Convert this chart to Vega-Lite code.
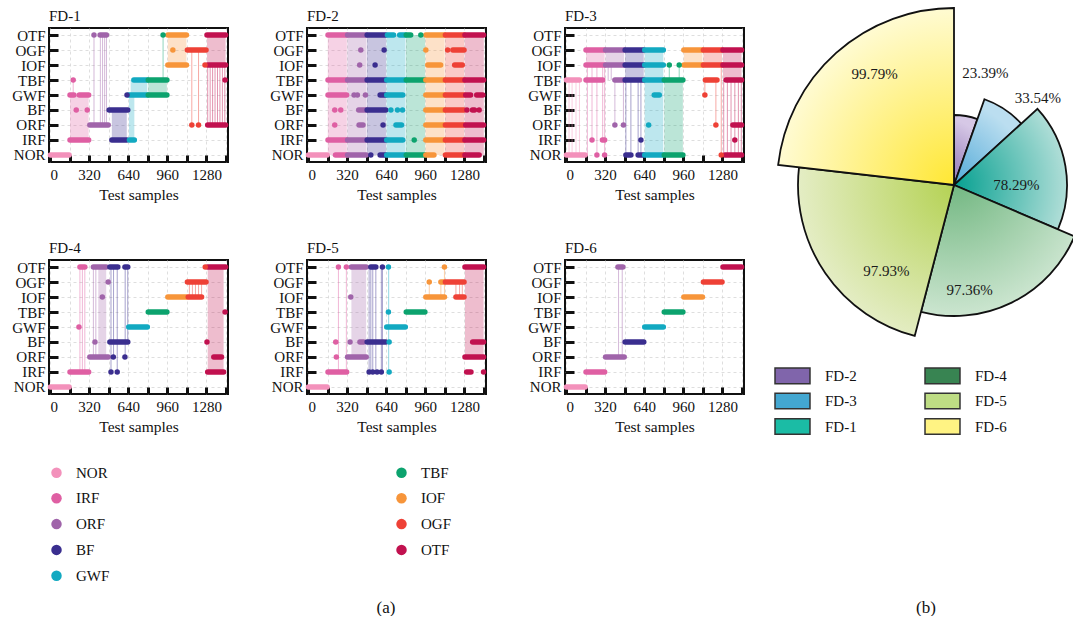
{
  "$schema": "https://vega.github.io/schema/vega-lite/v6.json",
  "padding": {"left": 10, "top": 4, "right": 0, "bottom": 0},
  "config": {
    "font": "Liberation Serif",
    "view": {"stroke": "#111", "strokeWidth": 2},
    "axis": {"zindex": 0, "labelFont": "Liberation Serif", "labelFontSize": 15, "labelColor": "#111", "titleFont": "Liberation Serif", "titleFontSize": 15.5, "titleFontWeight": "normal", "titleColor": "#111", "tickColor": "#111", "tickWidth": 3, "domain": false, "gridDash": [3, 3], "gridColor": "#d6d6d6", "gridWidth": 0.8},
    "legend": {"labelFont": "Liberation Serif", "labelFontSize": 15, "labelColor": "#111"},
    "title": {"font": "Liberation Serif", "fontSize": 17, "fontWeight": "normal", "color": "#111"},
    "header": {"labelFont": "Liberation Serif", "labelFontSize": 15, "labelColor": "#111"}
  },
  "datasets": {
    "fd": [
      {"p":"FD-1","k":"s","c":"NOR","x":4,"x2":156,"y":"NOR"},
      {"p":"FD-1","k":"b","c":"IRF","x":164,"x2":316,"y":"IRF","y2":"GWF"},
      {"p":"FD-1","k":"s","c":"IRF","x":164,"x2":316,"y":"IRF"},
      {"p":"FD-1","k":"s","c":"IRF","x":164,"x2":196,"y":"GWF"},
      {"p":"FD-1","k":"s","c":"IRF","x":240,"x2":316,"y":"GWF"},
      {"p":"FD-1","k":"d","c":"IRF","x":190,"y":"TBF"},
      {"p":"FD-1","k":"d","c":"IRF","x":215,"y":"BF"},
      {"p":"FD-1","k":"d","c":"IRF","x":305,"y":"BF"},
      {"p":"FD-1","k":"t","c":"IRF","x":190,"y":"GWF","y2":"TBF"},
      {"p":"FD-1","k":"s","c":"ORF","x":326,"x2":476,"y":"ORF"},
      {"p":"FD-1","k":"d","c":"ORF","x":360,"y":"OTF"},
      {"p":"FD-1","k":"s","c":"ORF","x":410,"x2":462,"y":"OTF"},
      {"p":"FD-1","k":"t","c":"ORF","x":360,"y":"ORF","y2":"OTF"},
      {"p":"FD-1","k":"t","c":"ORF","x":412,"y":"ORF","y2":"OTF"},
      {"p":"FD-1","k":"t","c":"ORF","x":430,"y":"ORF","y2":"OTF"},
      {"p":"FD-1","k":"t","c":"ORF","x":447,"y":"ORF","y2":"OTF"},
      {"p":"FD-1","k":"t","c":"ORF","x":462,"y":"ORF","y2":"OTF"},
      {"p":"FD-1","k":"b","c":"BF","x":506,"x2":628,"y":"IRF","y2":"BF"},
      {"p":"FD-1","k":"s","c":"BF","x":484,"x2":636,"y":"BF"},
      {"p":"FD-1","k":"s","c":"BF","x":506,"x2":628,"y":"IRF"},
      {"p":"FD-1","k":"d","c":"BF","x":630,"y":"GWF"},
      {"p":"FD-1","k":"b","c":"GWF","x":660,"x2":796,"y":"GWF","y2":"TBF"},
      {"p":"FD-1","k":"b","c":"GWF","x":646,"x2":690,"y":"IRF","y2":"GWF"},
      {"p":"FD-1","k":"s","c":"GWF","x":644,"x2":796,"y":"GWF"},
      {"p":"FD-1","k":"s","c":"GWF","x":686,"x2":796,"y":"TBF"},
      {"p":"FD-1","k":"s","c":"GWF","x":650,"x2":690,"y":"IRF"},
      {"p":"FD-1","k":"b","c":"TBF","x":804,"x2":956,"y":"GWF","y2":"TBF"},
      {"p":"FD-1","k":"s","c":"TBF","x":804,"x2":956,"y":"TBF"},
      {"p":"FD-1","k":"s","c":"TBF","x":804,"x2":956,"y":"GWF"},
      {"p":"FD-1","k":"d","c":"TBF","x":925,"y":"OTF"},
      {"p":"FD-1","k":"t","c":"TBF","x":925,"y":"TBF","y2":"OTF"},
      {"p":"FD-1","k":"b","c":"IOF","x":964,"x2":1116,"y":"IOF","y2":"OTF"},
      {"p":"FD-1","k":"s","c":"IOF","x":964,"x2":1116,"y":"IOF"},
      {"p":"FD-1","k":"s","c":"IOF","x":964,"x2":1116,"y":"OTF"},
      {"p":"FD-1","k":"d","c":"IOF","x":1005,"y":"OGF"},
      {"p":"FD-1","k":"s","c":"OGF","x":1124,"x2":1276,"y":"OGF"},
      {"p":"FD-1","k":"d","c":"OGF","x":1160,"y":"ORF"},
      {"p":"FD-1","k":"d","c":"OGF","x":1215,"y":"ORF"},
      {"p":"FD-1","k":"t","c":"OGF","x":1160,"y":"ORF","y2":"OGF"},
      {"p":"FD-1","k":"t","c":"OGF","x":1215,"y":"ORF","y2":"OGF"},
      {"p":"FD-1","k":"d","c":"OGF","x":1268,"y":"IOF"},
      {"p":"FD-1","k":"b","c":"OTF","x":1284,"x2":1436,"y":"IOF","y2":"OTF"},
      {"p":"FD-1","k":"s","c":"OTF","x":1284,"x2":1436,"y":"OTF"},
      {"p":"FD-1","k":"s","c":"OTF","x":1290,"x2":1436,"y":"IOF"},
      {"p":"FD-1","k":"s","c":"OTF","x":1290,"x2":1436,"y":"ORF"},
      {"p":"FD-1","k":"d","c":"OTF","x":1432,"y":"TBF"},
      {"p":"FD-1","k":"t","c":"OTF","x":1290,"y":"IOF","y2":"ORF"},
      {"p":"FD-1","k":"t","c":"OTF","x":1310,"y":"IOF","y2":"ORF"},
      {"p":"FD-1","k":"t","c":"OTF","x":1330,"y":"IOF","y2":"ORF"},
      {"p":"FD-1","k":"t","c":"OTF","x":1350,"y":"IOF","y2":"ORF"},
      {"p":"FD-1","k":"t","c":"OTF","x":1370,"y":"IOF","y2":"ORF"},
      {"p":"FD-1","k":"t","c":"OTF","x":1390,"y":"IOF","y2":"ORF"},
      {"p":"FD-1","k":"t","c":"OTF","x":1410,"y":"IOF","y2":"ORF"},
      {"p":"FD-1","k":"t","c":"OTF","x":1430,"y":"IOF","y2":"ORF"},

      {"p":"FD-2","k":"b","c":"IRF","x":162,"x2":318,"y":"NOR","y2":"OTF"},
      {"p":"FD-2","k":"b","c":"ORF","x":322,"x2":478,"y":"NOR","y2":"OTF"},
      {"p":"FD-2","k":"b","c":"BF","x":482,"x2":638,"y":"NOR","y2":"OTF"},
      {"p":"FD-2","k":"b","c":"GWF","x":642,"x2":798,"y":"NOR","y2":"OTF"},
      {"p":"FD-2","k":"b","c":"TBF","x":802,"x2":958,"y":"NOR","y2":"OTF"},
      {"p":"FD-2","k":"b","c":"IOF","x":962,"x2":1118,"y":"NOR","y2":"OTF"},
      {"p":"FD-2","k":"b","c":"OGF","x":1122,"x2":1278,"y":"NOR","y2":"OTF"},
      {"p":"FD-2","k":"b","c":"OTF","x":1282,"x2":1438,"y":"NOR","y2":"OTF"},
      {"p":"FD-2","k":"s","c":"NOR","x":4,"x2":156,"y":"NOR"},
      {"p":"FD-2","k":"s","c":"IRF","x":164,"x2":316,"y":"OTF"},
      {"p":"FD-2","k":"s","c":"IRF","x":164,"x2":316,"y":"TBF"},
      {"p":"FD-2","k":"s","c":"IRF","x":164,"x2":316,"y":"GWF"},
      {"p":"FD-2","k":"d","c":"IRF","x":219,"y":"BF"},
      {"p":"FD-2","k":"d","c":"IRF","x":268,"y":"BF"},
      {"p":"FD-2","k":"d","c":"IRF","x":219,"y":"ORF"},
      {"p":"FD-2","k":"s","c":"IRF","x":164,"x2":316,"y":"IRF"},
      {"p":"FD-2","k":"s","c":"IRF","x":225,"x2":316,"y":"NOR"},
      {"p":"FD-2","k":"s","c":"ORF","x":324,"x2":476,"y":"OTF"},
      {"p":"FD-2","k":"s","c":"ORF","x":324,"x2":476,"y":"TBF"},
      {"p":"FD-2","k":"d","c":"ORF","x":377,"y":"GWF"},
      {"p":"FD-2","k":"d","c":"ORF","x":404,"y":"GWF"},
      {"p":"FD-2","k":"d","c":"ORF","x":470,"y":"GWF"},
      {"p":"FD-2","k":"s","c":"ORF","x":415,"x2":476,"y":"BF"},
      {"p":"FD-2","k":"s","c":"ORF","x":418,"x2":450,"y":"ORF"},
      {"p":"FD-2","k":"d","c":"ORF","x":432,"y":"OGF"},
      {"p":"FD-2","k":"d","c":"ORF","x":423,"y":"IOF"},
      {"p":"FD-2","k":"s","c":"ORF","x":324,"x2":476,"y":"IRF"},
      {"p":"FD-2","k":"s","c":"ORF","x":324,"x2":476,"y":"NOR"},
      {"p":"FD-2","k":"s","c":"BF","x":484,"x2":636,"y":"OTF"},
      {"p":"FD-2","k":"s","c":"BF","x":484,"x2":636,"y":"TBF"},
      {"p":"FD-2","k":"s","c":"BF","x":590,"x2":636,"y":"GWF"},
      {"p":"FD-2","k":"s","c":"BF","x":484,"x2":636,"y":"BF"},
      {"p":"FD-2","k":"d","c":"BF","x":614,"y":"ORF"},
      {"p":"FD-2","k":"d","c":"BF","x":623,"y":"OGF"},
      {"p":"FD-2","k":"d","c":"BF","x":549,"y":"IOF"},
      {"p":"FD-2","k":"s","c":"BF","x":484,"x2":636,"y":"IRF"},
      {"p":"FD-2","k":"d","c":"BF","x":514,"y":"NOR"},
      {"p":"FD-2","k":"s","c":"BF","x":590,"x2":636,"y":"NOR"},
      {"p":"FD-2","k":"s","c":"GWF","x":650,"x2":700,"y":"OTF"},
      {"p":"FD-2","k":"s","c":"GWF","x":750,"x2":796,"y":"OTF"},
      {"p":"FD-2","k":"s","c":"GWF","x":644,"x2":796,"y":"TBF"},
      {"p":"FD-2","k":"s","c":"GWF","x":644,"x2":775,"y":"GWF"},
      {"p":"FD-2","k":"d","c":"GWF","x":678,"y":"BF"},
      {"p":"FD-2","k":"d","c":"GWF","x":732,"y":"BF"},
      {"p":"FD-2","k":"d","c":"GWF","x":773,"y":"BF"},
      {"p":"FD-2","k":"s","c":"GWF","x":720,"x2":765,"y":"ORF"},
      {"p":"FD-2","k":"s","c":"GWF","x":644,"x2":775,"y":"IRF"},
      {"p":"FD-2","k":"s","c":"GWF","x":644,"x2":796,"y":"NOR"},
      {"p":"FD-2","k":"s","c":"TBF","x":804,"x2":840,"y":"OTF"},
      {"p":"FD-2","k":"d","c":"TBF","x":923,"y":"OTF"},
      {"p":"FD-2","k":"s","c":"TBF","x":804,"x2":956,"y":"TBF"},
      {"p":"FD-2","k":"d","c":"TBF","x":869,"y":"IRF"},
      {"p":"FD-2","k":"s","c":"TBF","x":804,"x2":956,"y":"NOR"},
      {"p":"FD-2","k":"s","c":"IOF","x":964,"x2":1116,"y":"OTF"},
      {"p":"FD-2","k":"d","c":"IOF","x":964,"y":"OGF"},
      {"p":"FD-2","k":"s","c":"IOF","x":980,"x2":1085,"y":"IOF"},
      {"p":"FD-2","k":"s","c":"IOF","x":964,"x2":1116,"y":"TBF"},
      {"p":"FD-2","k":"s","c":"IOF","x":964,"x2":1116,"y":"GWF"},
      {"p":"FD-2","k":"s","c":"IOF","x":964,"x2":1116,"y":"BF"},
      {"p":"FD-2","k":"s","c":"IOF","x":964,"x2":1110,"y":"ORF"},
      {"p":"FD-2","k":"s","c":"IOF","x":964,"x2":1116,"y":"IRF"},
      {"p":"FD-2","k":"s","c":"IOF","x":964,"x2":1030,"y":"NOR"},
      {"p":"FD-2","k":"s","c":"OGF","x":1124,"x2":1276,"y":"OTF"},
      {"p":"FD-2","k":"d","c":"OGF","x":1142,"y":"OGF"},
      {"p":"FD-2","k":"s","c":"OGF","x":1185,"x2":1276,"y":"OGF"},
      {"p":"FD-2","k":"s","c":"OGF","x":1200,"x2":1262,"y":"IOF"},
      {"p":"FD-2","k":"s","c":"OGF","x":1124,"x2":1276,"y":"TBF"},
      {"p":"FD-2","k":"s","c":"OGF","x":1124,"x2":1276,"y":"GWF"},
      {"p":"FD-2","k":"s","c":"OGF","x":1124,"x2":1276,"y":"BF"},
      {"p":"FD-2","k":"s","c":"OGF","x":1124,"x2":1276,"y":"ORF"},
      {"p":"FD-2","k":"s","c":"OGF","x":1124,"x2":1276,"y":"IRF"},
      {"p":"FD-2","k":"s","c":"OGF","x":1124,"x2":1276,"y":"NOR"},
      {"p":"FD-2","k":"s","c":"OTF","x":1284,"x2":1436,"y":"OTF"},
      {"p":"FD-2","k":"s","c":"OTF","x":1284,"x2":1436,"y":"TBF"},
      {"p":"FD-2","k":"s","c":"OTF","x":1290,"x2":1330,"y":"GWF"},
      {"p":"FD-2","k":"s","c":"OTF","x":1380,"x2":1430,"y":"GWF"},
      {"p":"FD-2","k":"d","c":"OTF","x":1300,"y":"BF"},
      {"p":"FD-2","k":"s","c":"OTF","x":1345,"x2":1362,"y":"BF"},
      {"p":"FD-2","k":"d","c":"OTF","x":1400,"y":"BF"},
      {"p":"FD-2","k":"s","c":"OTF","x":1290,"x2":1436,"y":"ORF"},
      {"p":"FD-2","k":"s","c":"OTF","x":1284,"x2":1436,"y":"IRF"},
      {"p":"FD-2","k":"s","c":"OTF","x":1284,"x2":1400,"y":"NOR"},

      {"p":"FD-3","k":"t","c":"NOR","x":25,"y":"NOR","y2":"TBF"},
      {"p":"FD-3","k":"t","c":"NOR","x":50,"y":"NOR","y2":"TBF"},
      {"p":"FD-3","k":"t","c":"NOR","x":82,"y":"NOR","y2":"TBF"},
      {"p":"FD-3","k":"t","c":"NOR","x":110,"y":"NOR","y2":"TBF"},
      {"p":"FD-3","k":"s","c":"NOR","x":4,"x2":156,"y":"NOR"},
      {"p":"FD-3","k":"s","c":"NOR","x":4,"x2":110,"y":"TBF"},
      {"p":"FD-3","k":"b","c":"IRF","x":164,"x2":316,"y":"IOF","y2":"OGF"},
      {"p":"FD-3","k":"t","c":"IRF","x":175,"y":"IOF","y2":"NOR"},
      {"p":"FD-3","k":"t","c":"IRF","x":213,"y":"IOF","y2":"IRF"},
      {"p":"FD-3","k":"t","c":"IRF","x":253,"y":"IOF","y2":"NOR"},
      {"p":"FD-3","k":"t","c":"IRF","x":300,"y":"IOF","y2":"IRF"},
      {"p":"FD-3","k":"t","c":"IRF","x":316,"y":"IOF","y2":"NOR"},
      {"p":"FD-3","k":"s","c":"IRF","x":164,"x2":316,"y":"OGF"},
      {"p":"FD-3","k":"s","c":"IRF","x":164,"x2":316,"y":"IOF"},
      {"p":"FD-3","k":"s","c":"IRF","x":164,"x2":300,"y":"TBF"},
      {"p":"FD-3","k":"d","c":"IRF","x":213,"y":"IRF"},
      {"p":"FD-3","k":"s","c":"IRF","x":298,"x2":316,"y":"IRF"},
      {"p":"FD-3","k":"d","c":"IRF","x":253,"y":"NOR"},
      {"p":"FD-3","k":"d","c":"IRF","x":316,"y":"NOR"},
      {"p":"FD-3","k":"b","c":"ORF","x":324,"x2":476,"y":"IOF","y2":"OGF"},
      {"p":"FD-3","k":"t","c":"ORF","x":345,"y":"IOF","y2":"TBF"},
      {"p":"FD-3","k":"t","c":"ORF","x":370,"y":"IOF","y2":"TBF"},
      {"p":"FD-3","k":"t","c":"ORF","x":400,"y":"TBF","y2":"ORF"},
      {"p":"FD-3","k":"t","c":"ORF","x":470,"y":"TBF","y2":"ORF"},
      {"p":"FD-3","k":"s","c":"ORF","x":324,"x2":476,"y":"OGF"},
      {"p":"FD-3","k":"s","c":"ORF","x":324,"x2":476,"y":"IOF"},
      {"p":"FD-3","k":"s","c":"ORF","x":400,"x2":476,"y":"TBF"},
      {"p":"FD-3","k":"d","c":"ORF","x":400,"y":"ORF"},
      {"p":"FD-3","k":"d","c":"ORF","x":470,"y":"ORF"},
      {"p":"FD-3","k":"b","c":"BF","x":484,"x2":636,"y":"TBF","y2":"OGF"},
      {"p":"FD-3","k":"t","c":"BF","x":490,"y":"TBF","y2":"NOR"},
      {"p":"FD-3","k":"t","c":"BF","x":531,"y":"TBF","y2":"NOR"},
      {"p":"FD-3","k":"t","c":"BF","x":590,"y":"TBF","y2":"NOR"},
      {"p":"FD-3","k":"t","c":"BF","x":613,"y":"TBF","y2":"NOR"},
      {"p":"FD-3","k":"s","c":"BF","x":484,"x2":636,"y":"OGF"},
      {"p":"FD-3","k":"s","c":"BF","x":484,"x2":636,"y":"IOF"},
      {"p":"FD-3","k":"s","c":"BF","x":484,"x2":636,"y":"TBF"},
      {"p":"FD-3","k":"d","c":"BF","x":613,"y":"IRF"},
      {"p":"FD-3","k":"s","c":"BF","x":490,"x2":531,"y":"NOR"},
      {"p":"FD-3","k":"s","c":"BF","x":590,"x2":636,"y":"NOR"},
      {"p":"FD-3","k":"b","c":"GWF","x":644,"x2":796,"y":"NOR","y2":"OGF"},
      {"p":"FD-3","k":"s","c":"GWF","x":644,"x2":796,"y":"OGF"},
      {"p":"FD-3","k":"s","c":"GWF","x":644,"x2":796,"y":"IOF"},
      {"p":"FD-3","k":"s","c":"GWF","x":644,"x2":796,"y":"TBF"},
      {"p":"FD-3","k":"s","c":"GWF","x":722,"x2":763,"y":"GWF"},
      {"p":"FD-3","k":"d","c":"GWF","x":676,"y":"ORF"},
      {"p":"FD-3","k":"s","c":"GWF","x":644,"x2":796,"y":"NOR"},
      {"p":"FD-3","k":"b","c":"TBF","x":804,"x2":956,"y":"NOR","y2":"TBF"},
      {"p":"FD-3","k":"t","c":"TBF","x":845,"y":"TBF","y2":"IOF"},
      {"p":"FD-3","k":"t","c":"TBF","x":926,"y":"TBF","y2":"IOF"},
      {"p":"FD-3","k":"d","c":"TBF","x":845,"y":"IOF"},
      {"p":"FD-3","k":"d","c":"TBF","x":926,"y":"IOF"},
      {"p":"FD-3","k":"s","c":"TBF","x":804,"x2":956,"y":"TBF"},
      {"p":"FD-3","k":"s","c":"TBF","x":804,"x2":956,"y":"NOR"},
      {"p":"FD-3","k":"b","c":"IOF","x":964,"x2":1116,"y":"IOF","y2":"OGF"},
      {"p":"FD-3","k":"s","c":"IOF","x":964,"x2":1116,"y":"OGF"},
      {"p":"FD-3","k":"s","c":"IOF","x":964,"x2":1116,"y":"IOF"},
      {"p":"FD-3","k":"b","c":"OGF","x":1124,"x2":1276,"y":"IOF","y2":"OGF"},
      {"p":"FD-3","k":"t","c":"OGF","x":1136,"y":"TBF","y2":"GWF"},
      {"p":"FD-3","k":"t","c":"OGF","x":1226,"y":"TBF","y2":"ORF"},
      {"p":"FD-3","k":"t","c":"OGF","x":1270,"y":"IOF","y2":"NOR"},
      {"p":"FD-3","k":"s","c":"OGF","x":1124,"x2":1276,"y":"OGF"},
      {"p":"FD-3","k":"s","c":"OGF","x":1124,"x2":1276,"y":"IOF"},
      {"p":"FD-3","k":"s","c":"OGF","x":1140,"x2":1235,"y":"TBF"},
      {"p":"FD-3","k":"d","c":"OGF","x":1136,"y":"GWF"},
      {"p":"FD-3","k":"d","c":"OGF","x":1226,"y":"ORF"},
      {"p":"FD-3","k":"d","c":"OGF","x":1270,"y":"NOR"},
      {"p":"FD-3","k":"b","c":"OTF","x":1284,"x2":1436,"y":"TBF","y2":"OGF"},
      {"p":"FD-3","k":"t","c":"OTF","x":1290,"y":"TBF","y2":"NOR"},
      {"p":"FD-3","k":"t","c":"OTF","x":1320,"y":"TBF","y2":"NOR"},
      {"p":"FD-3","k":"t","c":"OTF","x":1350,"y":"TBF","y2":"NOR"},
      {"p":"FD-3","k":"t","c":"OTF","x":1381,"y":"TBF","y2":"NOR"},
      {"p":"FD-3","k":"t","c":"OTF","x":1410,"y":"TBF","y2":"NOR"},
      {"p":"FD-3","k":"t","c":"OTF","x":1434,"y":"TBF","y2":"NOR"},
      {"p":"FD-3","k":"s","c":"OTF","x":1284,"x2":1436,"y":"OGF"},
      {"p":"FD-3","k":"s","c":"OTF","x":1284,"x2":1436,"y":"IOF"},
      {"p":"FD-3","k":"s","c":"OTF","x":1310,"x2":1436,"y":"TBF"},
      {"p":"FD-3","k":"s","c":"OTF","x":1365,"x2":1436,"y":"ORF"},
      {"p":"FD-3","k":"d","c":"OTF","x":1381,"y":"IRF"},
      {"p":"FD-3","k":"s","c":"OTF","x":1300,"x2":1436,"y":"NOR"},

      {"p":"FD-4","k":"s","c":"NOR","x":4,"x2":156,"y":"NOR"},
      {"p":"FD-4","k":"t","c":"IRF","x":245,"y":"IRF","y2":"OTF"},
      {"p":"FD-4","k":"t","c":"IRF","x":265,"y":"IRF","y2":"OTF"},
      {"p":"FD-4","k":"t","c":"IRF","x":285,"y":"IRF","y2":"OTF"},
      {"p":"FD-4","k":"s","c":"IRF","x":164,"x2":316,"y":"IRF"},
      {"p":"FD-4","k":"s","c":"IRF","x":245,"x2":285,"y":"OTF"},
      {"p":"FD-4","k":"d","c":"IRF","x":237,"y":"GWF"},
      {"p":"FD-4","k":"b","c":"ORF","x":395,"x2":460,"y":"ORF","y2":"OTF"},
      {"p":"FD-4","k":"t","c":"ORF","x":355,"y":"ORF","y2":"OTF"},
      {"p":"FD-4","k":"t","c":"ORF","x":375,"y":"ORF","y2":"OTF"},
      {"p":"FD-4","k":"s","c":"ORF","x":326,"x2":476,"y":"ORF"},
      {"p":"FD-4","k":"s","c":"ORF","x":355,"x2":460,"y":"OTF"},
      {"p":"FD-4","k":"d","c":"ORF","x":368,"y":"BF"},
      {"p":"FD-4","k":"d","c":"ORF","x":428,"y":"IOF"},
      {"p":"FD-4","k":"d","c":"ORF","x":476,"y":"OGF"},
      {"p":"FD-4","k":"t","c":"BF","x":499,"y":"IRF","y2":"OTF"},
      {"p":"FD-4","k":"t","c":"BF","x":520,"y":"ORF","y2":"OTF"},
      {"p":"FD-4","k":"t","c":"BF","x":550,"y":"IRF","y2":"OTF"},
      {"p":"FD-4","k":"t","c":"BF","x":615,"y":"ORF","y2":"OTF"},
      {"p":"FD-4","k":"t","c":"BF","x":636,"y":"BF","y2":"OTF"},
      {"p":"FD-4","k":"s","c":"BF","x":490,"x2":636,"y":"BF"},
      {"p":"FD-4","k":"s","c":"BF","x":490,"x2":555,"y":"OTF"},
      {"p":"FD-4","k":"s","c":"BF","x":613,"x2":636,"y":"OTF"},
      {"p":"FD-4","k":"d","c":"BF","x":518,"y":"ORF"},
      {"p":"FD-4","k":"d","c":"BF","x":613,"y":"ORF"},
      {"p":"FD-4","k":"d","c":"BF","x":499,"y":"IRF"},
      {"p":"FD-4","k":"d","c":"BF","x":550,"y":"IRF"},
      {"p":"FD-4","k":"s","c":"GWF","x":644,"x2":796,"y":"GWF"},
      {"p":"FD-4","k":"s","c":"TBF","x":804,"x2":956,"y":"TBF"},
      {"p":"FD-4","k":"s","c":"IOF","x":964,"x2":1116,"y":"IOF"},
      {"p":"FD-4","k":"t","c":"OGF","x":1140,"y":"IOF","y2":"OGF"},
      {"p":"FD-4","k":"t","c":"OGF","x":1165,"y":"IOF","y2":"OGF"},
      {"p":"FD-4","k":"t","c":"OGF","x":1190,"y":"IOF","y2":"OGF"},
      {"p":"FD-4","k":"t","c":"OGF","x":1215,"y":"IOF","y2":"OGF"},
      {"p":"FD-4","k":"t","c":"OGF","x":1240,"y":"IOF","y2":"OGF"},
      {"p":"FD-4","k":"s","c":"OGF","x":1124,"x2":1276,"y":"OGF"},
      {"p":"FD-4","k":"s","c":"OGF","x":1131,"x2":1240,"y":"IOF"},
      {"p":"FD-4","k":"d","c":"OGF","x":1270,"y":"OTF"},
      {"p":"FD-4","k":"b","c":"OTF","x":1290,"x2":1420,"y":"IRF","y2":"OTF"},
      {"p":"FD-4","k":"s","c":"OTF","x":1290,"x2":1436,"y":"OTF"},
      {"p":"FD-4","k":"s","c":"OTF","x":1290,"x2":1420,"y":"IRF"},
      {"p":"FD-4","k":"s","c":"OTF","x":1340,"x2":1403,"y":"ORF"},
      {"p":"FD-4","k":"d","c":"OTF","x":1284,"y":"BF"},
      {"p":"FD-4","k":"d","c":"OTF","x":1432,"y":"TBF"},

      {"p":"FD-5","k":"s","c":"NOR","x":4,"x2":156,"y":"NOR"},
      {"p":"FD-5","k":"t","c":"IRF","x":249,"y":"IRF","y2":"OTF"},
      {"p":"FD-5","k":"t","c":"IRF","x":314,"y":"IRF","y2":"OTF"},
      {"p":"FD-5","k":"s","c":"IRF","x":164,"x2":316,"y":"IRF"},
      {"p":"FD-5","k":"d","c":"IRF","x":249,"y":"OTF"},
      {"p":"FD-5","k":"d","c":"IRF","x":314,"y":"OTF"},
      {"p":"FD-5","k":"d","c":"IRF","x":227,"y":"BF"},
      {"p":"FD-5","k":"d","c":"IRF","x":232,"y":"ORF"},
      {"p":"FD-5","k":"b","c":"ORF","x":355,"x2":476,"y":"ORF","y2":"OTF"},
      {"p":"FD-5","k":"s","c":"ORF","x":324,"x2":476,"y":"ORF"},
      {"p":"FD-5","k":"s","c":"ORF","x":355,"x2":476,"y":"OTF"},
      {"p":"FD-5","k":"d","c":"ORF","x":344,"y":"BF"},
      {"p":"FD-5","k":"s","c":"ORF","x":425,"x2":455,"y":"BF"},
      {"p":"FD-5","k":"d","c":"ORF","x":350,"y":"IOF"},
      {"p":"FD-5","k":"t","c":"BF","x":500,"y":"IRF","y2":"OTF"},
      {"p":"FD-5","k":"t","c":"BF","x":514,"y":"IRF","y2":"OTF"},
      {"p":"FD-5","k":"t","c":"BF","x":530,"y":"IRF","y2":"OTF"},
      {"p":"FD-5","k":"t","c":"BF","x":555,"y":"IRF","y2":"OTF"},
      {"p":"FD-5","k":"t","c":"BF","x":600,"y":"IRF","y2":"OTF"},
      {"p":"FD-5","k":"t","c":"BF","x":609,"y":"IRF","y2":"OTF"},
      {"p":"FD-5","k":"s","c":"BF","x":484,"x2":636,"y":"BF"},
      {"p":"FD-5","k":"s","c":"BF","x":514,"x2":555,"y":"OTF"},
      {"p":"FD-5","k":"d","c":"BF","x":609,"y":"OTF"},
      {"p":"FD-5","k":"d","c":"BF","x":500,"y":"IRF"},
      {"p":"FD-5","k":"d","c":"BF","x":530,"y":"IRF"},
      {"p":"FD-5","k":"d","c":"BF","x":565,"y":"IRF"},
      {"p":"FD-5","k":"d","c":"BF","x":600,"y":"IRF"},
      {"p":"FD-5","k":"t","c":"GWF","x":660,"y":"IRF","y2":"OTF"},
      {"p":"FD-5","k":"s","c":"GWF","x":644,"x2":796,"y":"GWF"},
      {"p":"FD-5","k":"d","c":"GWF","x":658,"y":"OTF"},
      {"p":"FD-5","k":"d","c":"GWF","x":658,"y":"TBF"},
      {"p":"FD-5","k":"d","c":"GWF","x":664,"y":"BF"},
      {"p":"FD-5","k":"d","c":"GWF","x":664,"y":"IRF"},
      {"p":"FD-5","k":"s","c":"TBF","x":804,"x2":956,"y":"TBF"},
      {"p":"FD-5","k":"t","c":"IOF","x":992,"y":"IOF","y2":"OGF"},
      {"p":"FD-5","k":"t","c":"IOF","x":1087,"y":"IOF","y2":"OGF"},
      {"p":"FD-5","k":"t","c":"IOF","x":1116,"y":"IOF","y2":"OTF"},
      {"p":"FD-5","k":"s","c":"IOF","x":964,"x2":1116,"y":"IOF"},
      {"p":"FD-5","k":"d","c":"IOF","x":992,"y":"OGF"},
      {"p":"FD-5","k":"s","c":"IOF","x":1087,"x2":1108,"y":"OGF"},
      {"p":"FD-5","k":"d","c":"IOF","x":1116,"y":"OTF"},
      {"p":"FD-5","k":"t","c":"OGF","x":1210,"y":"IOF","y2":"OGF"},
      {"p":"FD-5","k":"t","c":"OGF","x":1240,"y":"IOF","y2":"OGF"},
      {"p":"FD-5","k":"t","c":"OGF","x":1262,"y":"IOF","y2":"OGF"},
      {"p":"FD-5","k":"s","c":"OGF","x":1124,"x2":1276,"y":"OGF"},
      {"p":"FD-5","k":"s","c":"OGF","x":1210,"x2":1276,"y":"IOF"},
      {"p":"FD-5","k":"b","c":"OTF","x":1284,"x2":1436,"y":"ORF","y2":"OTF"},
      {"p":"FD-5","k":"s","c":"OTF","x":1284,"x2":1436,"y":"OTF"},
      {"p":"FD-5","k":"s","c":"OTF","x":1284,"x2":1436,"y":"ORF"},
      {"p":"FD-5","k":"s","c":"OTF","x":1347,"x2":1436,"y":"BF"},
      {"p":"FD-5","k":"s","c":"OTF","x":1298,"x2":1333,"y":"IRF"},
      {"p":"FD-5","k":"d","c":"OTF","x":1436,"y":"IRF"},

      {"p":"FD-6","k":"s","c":"NOR","x":4,"x2":156,"y":"NOR"},
      {"p":"FD-6","k":"s","c":"IRF","x":164,"x2":316,"y":"IRF"},
      {"p":"FD-6","k":"t","c":"ORF","x":430,"y":"ORF","y2":"OTF"},
      {"p":"FD-6","k":"t","c":"ORF","x":460,"y":"ORF","y2":"OTF"},
      {"p":"FD-6","k":"s","c":"ORF","x":324,"x2":476,"y":"ORF"},
      {"p":"FD-6","k":"s","c":"ORF","x":425,"x2":465,"y":"OTF"},
      {"p":"FD-6","k":"s","c":"BF","x":484,"x2":636,"y":"BF"},
      {"p":"FD-6","k":"s","c":"GWF","x":644,"x2":796,"y":"GWF"},
      {"p":"FD-6","k":"s","c":"TBF","x":804,"x2":956,"y":"TBF"},
      {"p":"FD-6","k":"s","c":"IOF","x":964,"x2":1116,"y":"IOF"},
      {"p":"FD-6","k":"s","c":"OGF","x":1124,"x2":1276,"y":"OGF"},
      {"p":"FD-6","k":"s","c":"OTF","x":1284,"x2":1436,"y":"OTF"}
    ],
    "pie": [
      {"fd": "FD-2", "v": 0.2339},
      {"fd": "FD-3", "v": 0.3354},
      {"fd": "FD-1", "v": 0.7829},
      {"fd": "FD-4", "v": 0.9736},
      {"fd": "FD-5", "v": 0.9793},
      {"fd": "FD-6", "v": 0.9979}
    ]
  },
  "hconcat": [
    {
      "data": {"name": "fd"},
      "title": {"text": "(a)", "orient": "bottom", "anchor": "middle", "offset": 16, "dx": 8},
      "facet": {"field": "p", "type": "nominal", "header": {"title": null, "labelAnchor": "start", "labelAlign": "left", "labelPadding": 4}},
      "columns": 3,
      "spacing": {"column": 38, "row": 36},
      "resolve": {"axis": {"x": "independent", "y": "independent"}},
      "spec": {
        "width": 179,
        "height": 134,
        "encoding": {
          "x": {"field": "x", "type": "quantitative", "scale": {"domain": [-8, 1456], "nice": false, "zero": false},
                "axis": {"zindex": 0, "title": "Test samples", "values": [0,160,320,480,640,800,960,1120,1280,1440], "format": "d", "labelExpr": "datum.value % 320 == 0 && datum.value < 1440 ? datum.label : ''", "tickSize": -7, "labelPadding": 12, "titlePadding": 5, "grid": true}},
          "y": {"field": "y", "type": "nominal", "scale": {"type": "point", "domain": ["OTF","OGF","IOF","TBF","GWF","BF","ORF","IRF","NOR"], "padding": 0.47},
                "axis": {"zindex": 0, "title": null, "tickSize": -9, "labelPadding": 13, "grid": true}}
        },
        "layer": [
          {"transform": [{"filter": "datum.k == 'b'"}], "mark": {"type": "rect", "opacity": 0.28},
           "encoding": {"x2": {"field": "x2"}, "y2": {"field": "y2"},
             "fill": {"field": "c", "type": "nominal", "scale": {"domain": ["NOR","IRF","ORF","BF","GWF","TBF","IOF","OGF","OTF"], "range": ["#f391bb","#df5fa3","#a064aa","#3a2e8f","#12a9c1","#0ca36e","#f7953a","#ee4136","#c1114f"]}, "legend": null}}},
          {"transform": [{"filter": "datum.k == 't'"}], "mark": {"type": "rule", "strokeWidth": 1, "opacity": 0.45},
           "encoding": {"y2": {"field": "y2"},
             "stroke": {"field": "c", "type": "nominal", "scale": {"domain": ["NOR","IRF","ORF","BF","GWF","TBF","IOF","OGF","OTF"], "range": ["#f391bb","#df5fa3","#a064aa","#3a2e8f","#12a9c1","#0ca36e","#f7953a","#ee4136","#c1114f"]}, "legend": null}}},
          {"transform": [{"filter": "datum.k == 's'"}], "mark": {"type": "rule", "strokeWidth": 5.5, "strokeCap": "round"},
           "encoding": {"x2": {"field": "x2"},
             "stroke": {"field": "c", "type": "nominal", "scale": {"domain": ["NOR","IRF","ORF","BF","GWF","TBF","IOF","OGF","OTF"], "range": ["#f391bb","#df5fa3","#a064aa","#3a2e8f","#12a9c1","#0ca36e","#f7953a","#ee4136","#c1114f"]}, "legend": null}}},
          {"transform": [{"filter": "datum.k == 'd'"}], "mark": {"type": "circle", "size": 30, "opacity": 1},
           "encoding": {"color": {"field": "c", "type": "nominal", "scale": {"domain": ["NOR","IRF","ORF","BF","GWF","TBF","IOF","OGF","OTF"], "range": ["#f391bb","#df5fa3","#a064aa","#3a2e8f","#12a9c1","#0ca36e","#f7953a","#ee4136","#c1114f"]},
             "legend": {"orient": "none", "legendX": 0, "legendY": 437, "title": null, "columns": 2, "columnPadding": 284, "rowPadding": 9.8, "symbolType": "circle", "symbolSize": 110, "labelOffset": 12, "symbolStrokeWidth": 0, "symbolOpacity": 1}}}}
        ]
      }
    },
    {
      "data": {"name": "pie"},
      "width": 280,
      "height": 314,
      "view": {"stroke": null},
      "title": {"text": "(b)", "orient": "bottom", "anchor": "middle", "offset": 162, "dx": -28},
      "resolve": {"scale": {"radius": "independent", "theta": "independent"}},
      "layer": [
        {
          "mark": {"type": "arc", "stroke": "#111", "strokeWidth": 1.8},
          "encoding": {
            "theta": {"field": "v", "type": "quantitative", "stack": true},
            "order": {"field": "v", "sort": "ascending"},
            "radius": {"field": "v", "type": "quantitative", "scale": {"type": "linear", "domain": [0, 0.2339,0.3354,0.7829,0.9736,0.9793,0.9979], "range": [0,70,91,113,131,156,177], "zero": true}},
            "fill": {"condition": [
              {"test": "datum.fd == 'FD-6'", "value": {"gradient": "radial", "x1": 1, "y1": 1, "r1": 0, "x2": 1, "y2": 1, "r2": 1, "stops": [{"offset": 0, "color": "#ffe733"}, {"offset": 1, "color": "#fffbd2"}]}},
              {"test": "datum.fd == 'FD-5'", "value": {"gradient": "radial", "x1": 1, "y1": 0.1, "r1": 0, "x2": 1, "y2": 0.1, "r2": 1, "stops": [{"offset": 0, "color": "#b3d150"}, {"offset": 1, "color": "#e6eec9"}]}},
              {"test": "datum.fd == 'FD-4'", "value": {"gradient": "radial", "x1": 0.21, "y1": 0, "r1": 0, "x2": 0.21, "y2": 0, "r2": 1, "stops": [{"offset": 0, "color": "#6cb47c"}, {"offset": 1, "color": "#d3e9d6"}]}},
              {"test": "datum.fd == 'FD-1'", "value": {"gradient": "radial", "x1": 0, "y1": 0.63, "r1": 0, "x2": 0, "y2": 0.63, "r2": 1, "stops": [{"offset": 0, "color": "#009e8e"}, {"offset": 1, "color": "#b6e0da"}]}},
              {"test": "datum.fd == 'FD-3'", "value": {"gradient": "radial", "x1": 0, "y1": 1, "r1": 0, "x2": 0, "y2": 1, "r2": 1, "stops": [{"offset": 0, "color": "#4aa6d6"}, {"offset": 1, "color": "#bbdef0"}]}}
            ], "value": {"gradient": "radial", "x1": 0, "y1": 1, "r1": 0, "x2": 0, "y2": 1, "r2": 1, "stops": [{"offset": 0, "color": "#7e5fa8"}, {"offset": 1, "color": "#d6c8e6"}]}}
          }
        },
        {
          "mark": {"type": "arc", "radius": 0, "strokeWidth": 0},
          "encoding": {
            "theta": {"field": "v", "type": "quantitative", "stack": true},
            "order": {"field": "v", "sort": "ascending"},
            "color": {"field": "fd", "type": "nominal", "scale": {"domain": ["FD-2","FD-3","FD-1","FD-4","FD-5","FD-6"], "range": ["#8065ab","#43a7d1","#1bbca5","#388452","#bedd84","#fff383"]},
              "legend": {"orient": "none", "legendX": -31, "legendY": 338, "title": null, "columns": 2, "columnPadding": 65, "rowPadding": 2.5, "symbolType": "M-2,-0.9L2,-0.9L2,0.9L-2,0.9Z", "symbolSize": 306, "symbolStrokeColor": "#333", "symbolStrokeWidth": 1.5, "labelOffset": 23}}
          }
        },
        {
          "mark": {"type": "text", "font": "Liberation Serif", "fontSize": 15, "color": "#1a1a1a"},
          "encoding": {
            "theta": {"field": "v", "type": "quantitative", "stack": null, "scale": {"type": "linear", "domain": [0.2339,0.3354,0.7829,0.9736,0.9793,0.9979], "range": [0.2731,0.7697,1.5708,2.9932,3.8100,5.6618], "zero": false}},
            "radius": {"field": "v", "type": "quantitative", "scale": {"type": "linear", "domain": [0.2339,0.3354,0.7829,0.9736,0.9793,0.9979], "range": [116,120.7,62.3,105.8,109.1,136.5], "zero": false}},
            "text": {"field": "v", "type": "quantitative", "format": ".2%"}
          }
        }
      ]
    }
  ],
  "spacing": 28,
  "resolve": {"scale": {"color": "independent"}}
}
